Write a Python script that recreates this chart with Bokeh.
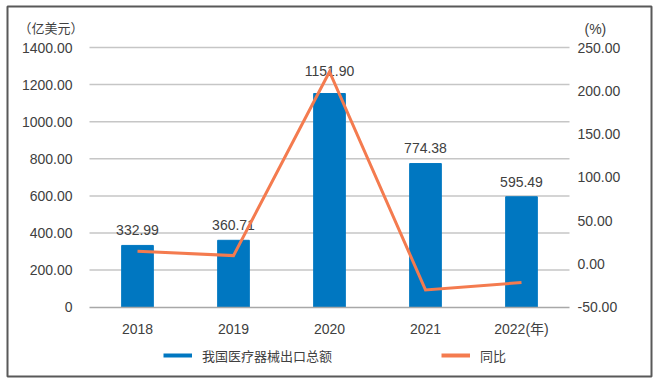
from bokeh.plotting import figure
from bokeh.models import (Range1d, FactorRange, LinearAxis, CategoricalAxis, FixedTicker,
                          Label, Legend, LegendItem, ColumnDataSource)
from bokeh.core.properties import value
from bokeh.embed import file_html
from bokeh.resources import INLINE

# ---- data ----
years = ["2018", "2019", "2020", "2021", "2022(年)"]
export_total = [332.99, 360.71, 1151.90, 774.38, 595.49]   # 亿美元
yoy = [14.6, 9.6, 222.0, -30.0, -21.5]                      # %
left_ticks = [0, 200, 400, 600, 800, 1000, 1200, 1400]
left_tick_labels = ["0", "200.00", "400.00", "600.00", "800.00", "1000.00", "1200.00", "1400.00"]
right_ticks = [-50, 0, 50, 100, 150, 200, 250]
right_tick_labels = ["-50.00", "0.00", "50.00", "100.00", "150.00", "200.00", "250.00"]
bar_name = "我国医疗器械出口总额"
line_name = "同比"
left_unit = "（亿美元）"
right_unit = "(%)"

# ---- style / layout ----
FONT = "Liberation Sans, Noto Sans CJK SC"
TEXT = "#404040"
BLUE = "#0077C1"
ORANGE = "#F47B4F"
GRID = "#c6c6c6"

W, H = 657, 384
FL, FT, FR, FB = 7, 6, 651, 376          # outer box (frame) in px
CAT_PX = 96.0                             # px per category
Y0_PX, YTOP_PX = 306.7, 47.0              # px of axis bottom / top gridline

pad = ((FR - FL) / CAT_PX - len(years)) / 2.0
lo, hi = left_ticks[0], left_ticks[-1]
ppu = (Y0_PX - YTOP_PX) / (hi - lo)
y_start = lo - (FB - Y0_PX) / ppu
y_end = hi + (YTOP_PX - FT) / ppu
rlo, rhi = right_ticks[0], right_ticks[-1]
ppu_r = (Y0_PX - YTOP_PX) / (rhi - rlo)
r_start = rlo - (FB - Y0_PX) / ppu_r
r_end = rhi + (YTOP_PX - FT) / ppu_r

src = ColumnDataSource(dict(
    years=years, total=export_total, yoy=yoy,
    lbl=[f"{v:.2f}" for v in export_total],
    off=[-15, -15, -23, -16, -15],
))
grid_src = ColumnDataSource(dict(y=left_ticks[1:]))

p = figure(width=W, height=H,
           x_range=FactorRange(*years, range_padding=pad, range_padding_units="absolute"),
           y_range=Range1d(y_start, y_end),
           x_axis_location=None, y_axis_location=None,
           output_backend="svg", toolbar_location=None,
           min_border_left=FL, min_border_right=W - FR,
           min_border_top=FT, min_border_bottom=H - FB)
p.extra_y_ranges = {"right": Range1d(r_start, r_end)}
p.outline_line_color = "#595959"
p.outline_line_width = 2
p.background_fill_color = "white"
p.border_fill_color = "white"
for g in p.grid:
    g.visible = False

# gridlines over the category span
p.segment(x0=0, x1=len(years), y0="y", y1="y", source=grid_src,
          line_color=GRID, line_width=1.5)

p.vbar(x="years", top="total", width=0.33, color=BLUE, source=src)
p.text(x="years", y="total", text="lbl", y_offset="off", source=src,
       text_align="center", text_baseline="middle",
       text_font=value(FONT), text_font_size="14px", text_color=TEXT)
p.line(x="years", y="yoy", y_range_name="right", source=src,
       line_color=ORANGE, line_width=3, line_join="miter")

# legend (line samples; the sample renderers themselves draw nothing)
nan = float("nan")
lb = p.line(x=[years[0], years[1]], y=[nan, nan], line_color=BLUE, line_width=4)
lo_r = p.line(x=[years[0], years[1]], y=[nan, nan], line_color=ORANGE, line_width=4)
legend = Legend(items=[LegendItem(label=bar_name, renderers=[lb]),
                       LegendItem(label=line_name, renderers=[lo_r])],
                orientation="horizontal", location=(156, 11),
                glyph_width=29, glyph_height=20, label_height=20,
                label_standoff=10, spacing=109,
                padding=0, margin=0, border_line_color=None,
                background_fill_alpha=0,
                label_text_font=FONT, label_text_font_size="13px",
                label_text_color=TEXT)
p.add_layout(legend)

# axes (drawn inside the outer box)
xa = CategoricalAxis(fixed_location=0, bounds=(0, len(years)))
xa.axis_line_color = "#a8a8a8"
xa.axis_line_width = 1.5
xa.major_tick_line_color = None
xa.minor_tick_line_color = None
xa.major_label_standoff = 8
xa.major_label_text_font = FONT
xa.major_label_text_font_size = "14px"
xa.major_label_text_color = TEXT
p.add_layout(xa, "below")

ya = LinearAxis(fixed_location=0, ticker=FixedTicker(ticks=left_ticks))
ya.major_label_overrides = {t: s for t, s in zip(left_ticks, left_tick_labels)}
ya.axis_line_color = None
ya.major_tick_line_color = None
ya.minor_tick_line_color = None
ya.major_label_standoff = 11
ya.major_label_text_font = FONT
ya.major_label_text_font_size = "14px"
ya.major_label_text_color = TEXT
p.add_layout(ya, "left")

ra = LinearAxis(y_range_name="right", fixed_location=len(years),
                ticker=FixedTicker(ticks=right_ticks))
ra.major_label_overrides = {t: s for t, s in zip(right_ticks, right_tick_labels)}
ra.axis_line_color = None
ra.major_tick_line_color = None
ra.minor_tick_line_color = None
ra.major_label_standoff = 2
ra.major_label_text_font = FONT
ra.major_label_text_font_size = "14px"
ra.major_label_text_color = TEXT
p.add_layout(ra, "right")

p.add_layout(Label(x=0, y=hi, x_offset=-6, y_offset=19, text=left_unit,
                   text_align="right", text_baseline="middle",
                   text_font=FONT, text_font_size="13px", text_color=TEXT))
p.add_layout(Label(x=len(years), y=hi, x_offset=15, y_offset=19, text=right_unit,
                   text_align="left", text_baseline="middle",
                   text_font=FONT, text_font_size="14px", text_color=TEXT))

open("out.html", "w").write(file_html(p, INLINE))
